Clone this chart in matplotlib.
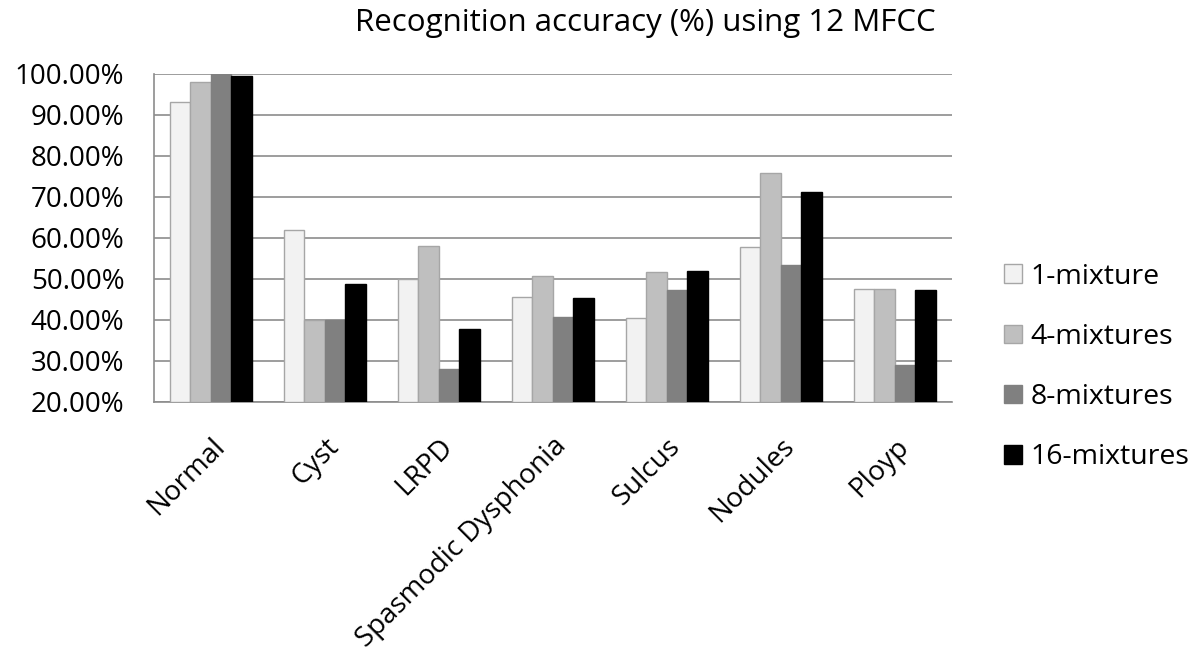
import matplotlib.pyplot as plt
import numpy as np
from matplotlib.ticker import FuncFormatter

plt.rcParams['font.family'] = ['Open Sans', 'DejaVu Sans']

categories = ["Normal", "Cyst", "LRPD", "Spasmodic Dysphonia", "Sulcus", "Nodules", "Ployp"]
series_names = ["1-mixture", "4-mixtures", "8-mixtures", "16-mixtures"]
mix1 = [93.1, 62.0, 50.0, 45.5, 40.4, 57.7, 47.5]
mix4 = [98.1, 40.0, 58.1, 50.6, 51.7, 75.8, 47.5]
mix8 = [100.0, 40.0, 28.0, 40.6, 47.3, 53.3, 29.1]
mix16 = [99.4, 48.7, 37.9, 45.4, 51.9, 71.1, 47.3]
yticks = [20, 30, 40, 50, 60, 70, 80, 90, 100]

colors = ["#f2f2f2", "#bfbfbf", "#808080", "#000000"]
edges = ["#a6a6a6", "#a6a6a6", "#808080", "#000000"]

fig = plt.figure(figsize=(12, 6.71), dpi=100)
ax = fig.add_axes([0.128, 0.401, 0.665, 0.489])

x = np.arange(len(categories))
w = 0.18
base = 20
for i, (vals, c, e, name) in enumerate(zip([mix1, mix4, mix8, mix16], colors, edges, series_names)):
    heights = [v - base for v in vals]
    ax.bar(x + (i - 1.5) * w, heights, w, bottom=base, color=c, edgecolor=e,
           linewidth=1, label=name, zorder=3)

ax.set_ylim(20, 100)
ax.set_xlim(-0.5, len(categories) - 0.5)
ax.set_yticks(yticks)
ax.yaxis.set_major_formatter(FuncFormatter(lambda v, p: f"{v:.2f}%"))
ax.grid(axis='y', color='#8c8c8c', linewidth=1.2, zorder=0)
ax.set_xticks(x)
ax.set_xticklabels(categories, rotation=45, ha='right', rotation_mode='anchor', fontsize=20)
ax.tick_params(axis='y', labelsize=20, length=0, pad=21)
ax.tick_params(axis='x', length=0, pad=22)
for s in ['top', 'right']:
    ax.spines[s].set_visible(False)
for s in ['left', 'bottom']:
    ax.spines[s].set_color('#8c8c8c')
    ax.spines[s].set_linewidth(1.2)

fig.text(0.538, 0.965, "Recognition accuracy (%) using 12 MFCC", ha='center', va='center', fontsize=22.5)

fig.legend(loc='center left', bbox_to_anchor=(0.815, 0.453), frameon=False, fontsize=20.5,
           labelspacing=1.13, handlelength=0.63, handleheight=0.63, handletextpad=0.32)

fig.savefig("out.png", dpi=100)
